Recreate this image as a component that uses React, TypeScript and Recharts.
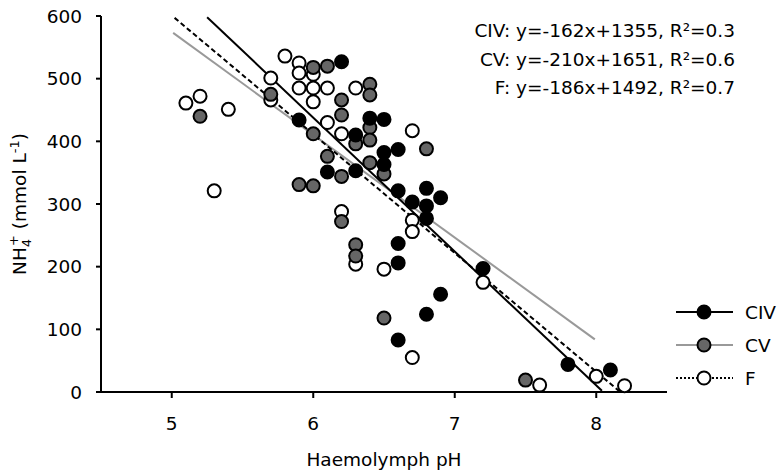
import React from 'react';
import {
  ScatterChart,
  Scatter,
  XAxis,
  YAxis,
  ReferenceLine,
  Customized
} from 'recharts';

const FONT = '"DejaVu Sans", Arial, sans-serif';
const FS = 18.5;

// Haemolymph pH / NH4+ per stage
const civPH = [5.9, 6.1, 6.2, 6.3, 6.3, 6.4, 6.5, 6.5, 6.5, 6.6, 6.6, 6.6, 6.6, 6.6, 6.7, 6.8, 6.8, 6.8, 6.8, 6.9, 6.9, 7.2, 7.8, 8.1];
const civNH4 = [434, 351, 527, 410, 353, 437, 435, 382, 363, 387, 321, 237, 206, 83, 303, 325, 297, 277, 124, 310, 156, 197, 44, 35];

const cvPH = [5.2, 5.7, 5.9, 6.0, 6.0, 6.0, 6.1, 6.1, 6.2, 6.2, 6.2, 6.2, 6.3, 6.3, 6.3, 6.4, 6.4, 6.4, 6.4, 6.4, 6.5, 6.5, 6.8, 7.5];
const cvNH4 = [440, 475, 331, 518, 412, 329, 520, 376, 466, 442, 344, 272, 396, 235, 217, 491, 474, 422, 402, 366, 348, 118, 388, 19];

const fPH = [5.1, 5.2, 5.3, 5.4, 5.7, 5.7, 5.8, 5.9, 5.9, 5.9, 6.0, 6.0, 6.0, 6.1, 6.1, 6.2, 6.2, 6.3, 6.3, 6.5, 6.7, 6.7, 6.7, 6.7, 7.2, 7.6, 8.0, 8.2];
const fNH4 = [461, 472, 321, 451, 501, 466, 536, 525, 509, 485, 507, 485, 463, 485, 430, 412, 288, 485, 204, 196, 417, 274, 256, 55, 175, 11, 25, 10];

// regression lines, ends as drawn
const civFitPH = [5.25, 8.04];
const civFitNH4 = [598, 2];
const cvFitPH = [5.01, 7.99];
const cvFitNH4 = [573, 84];
const fFitPH = [5.02, 8.17];
const fFitNH4 = [597, 0];

const xTicks = [5, 6, 7, 8];
const yTicks = [0, 100, 200, 300, 400, 500, 600];

const equations = [
  'CIV: y=-162x+1355, R²=0.3',
  'CV: y=-210x+1651, R²=0.6',
  'F: y=-186x+1492, R²=0.7',
];

const series = [
  { name: 'CIV', fill: '#000000', line: '#000000', dash: undefined },
  { name: 'CV', fill: '#666666', line: '#999999', dash: undefined },
  { name: 'F', fill: '#ffffff', line: '#000000', dash: '2 2' },
];

const toPoints = (xs: number[], ys: number[]) => xs.map((x, i) => ({ x, y: ys[i] }));

const dot = (fill: string) => (props: any) => (
  <circle cx={props.cx} cy={props.cy} r={6.5} fill={fill} stroke="#000" strokeWidth={2} />
);

const Extras = () => (
  <g fontFamily={FONT} fontSize={FS} fill="#000">
    <text transform="rotate(-90, 26, 204)" x={26} y={204} textAnchor="middle">
      <tspan>NH</tspan>
      <tspan dy={5} fontSize={13}>4</tspan>
      <tspan dx={-7} dy={-13} fontSize={13}>+</tspan>
      <tspan dy={8}> (mmol L</tspan>
      <tspan dy={-7} fontSize={13}>-1</tspan>
      <tspan dy={7}>)</tspan>
    </text>
    {equations.map((eq, i) => (
      <text key={eq} x={735} y={37 + i * 28.5} textAnchor="end">{eq}</text>
    ))}
    {series.map((s, i) => {
      const cy = 312 + i * 33;
      return (
        <g key={s.name}>
          <line x1={676} x2={733} y1={cy} y2={cy} stroke={s.line} strokeWidth={2} strokeDasharray={s.dash} />
          <circle cx={704} cy={cy} r={6.5} fill={s.fill} stroke="#000" strokeWidth={2} />
          <text x={745} y={cy + 6.7}>{s.name}</text>
        </g>
      );
    })}
  </g>
);

const App: React.FC = () => {
  return (
    <div style={{ position: 'absolute', left: 0, top: 0, width: 782, height: 475, overflow: 'hidden', fontFamily: FONT }}>
      <ScatterChart
        width={782}
        height={475}
        margin={{ top: 16, right: 115, bottom: 0, left: 0 }}
        style={{ fontFamily: FONT }}
      >
        <XAxis
          type="number"
          dataKey="x"
          domain={[4.5, 8.5]}
          ticks={xTicks}
          height={83}
          tickSize={6}
          tickMargin={19}
          axisLine={{ stroke: '#000', strokeWidth: 2 }}
          tickLine={{ stroke: '#000', strokeWidth: 2 }}
          tick={{ fill: '#000', fontSize: FS }}
          label={{ value: 'Haemolymph pH', position: 'insideBottom', offset: 9, fill: '#000', fontSize: FS }}
        />
        <YAxis
          type="number"
          dataKey="y"
          domain={[0, 600]}
          ticks={yTicks}
          width={101}
          tickSize={5}
          tickMargin={14}
          axisLine={{ stroke: '#000', strokeWidth: 2 }}
          tickLine={{ stroke: '#000', strokeWidth: 2 }}
          tick={{ fill: '#000', fontSize: FS }}
        />
        <Scatter name="F" data={toPoints(fPH, fNH4)} shape={dot('#ffffff')} isAnimationActive={false} />
        <Scatter name="CV" data={toPoints(cvPH, cvNH4)} shape={dot('#666666')} isAnimationActive={false} />
        <Scatter name="CIV" data={toPoints(civPH, civNH4)} shape={dot('#000000')} isAnimationActive={false} />
        <ReferenceLine
          segment={toPoints(cvFitPH, cvFitNH4)}
          stroke="#999"
          strokeWidth={2}
        />
        <ReferenceLine
          segment={toPoints(fFitPH, fFitNH4)}
          stroke="#000"
          strokeWidth={2}
          strokeDasharray="5 3"
        />
        <ReferenceLine
          segment={toPoints(civFitPH, civFitNH4)}
          stroke="#000"
          strokeWidth={2}
        />
        <Customized component={Extras} />
      </ScatterChart>
    </div>
  );
};

export default App;
